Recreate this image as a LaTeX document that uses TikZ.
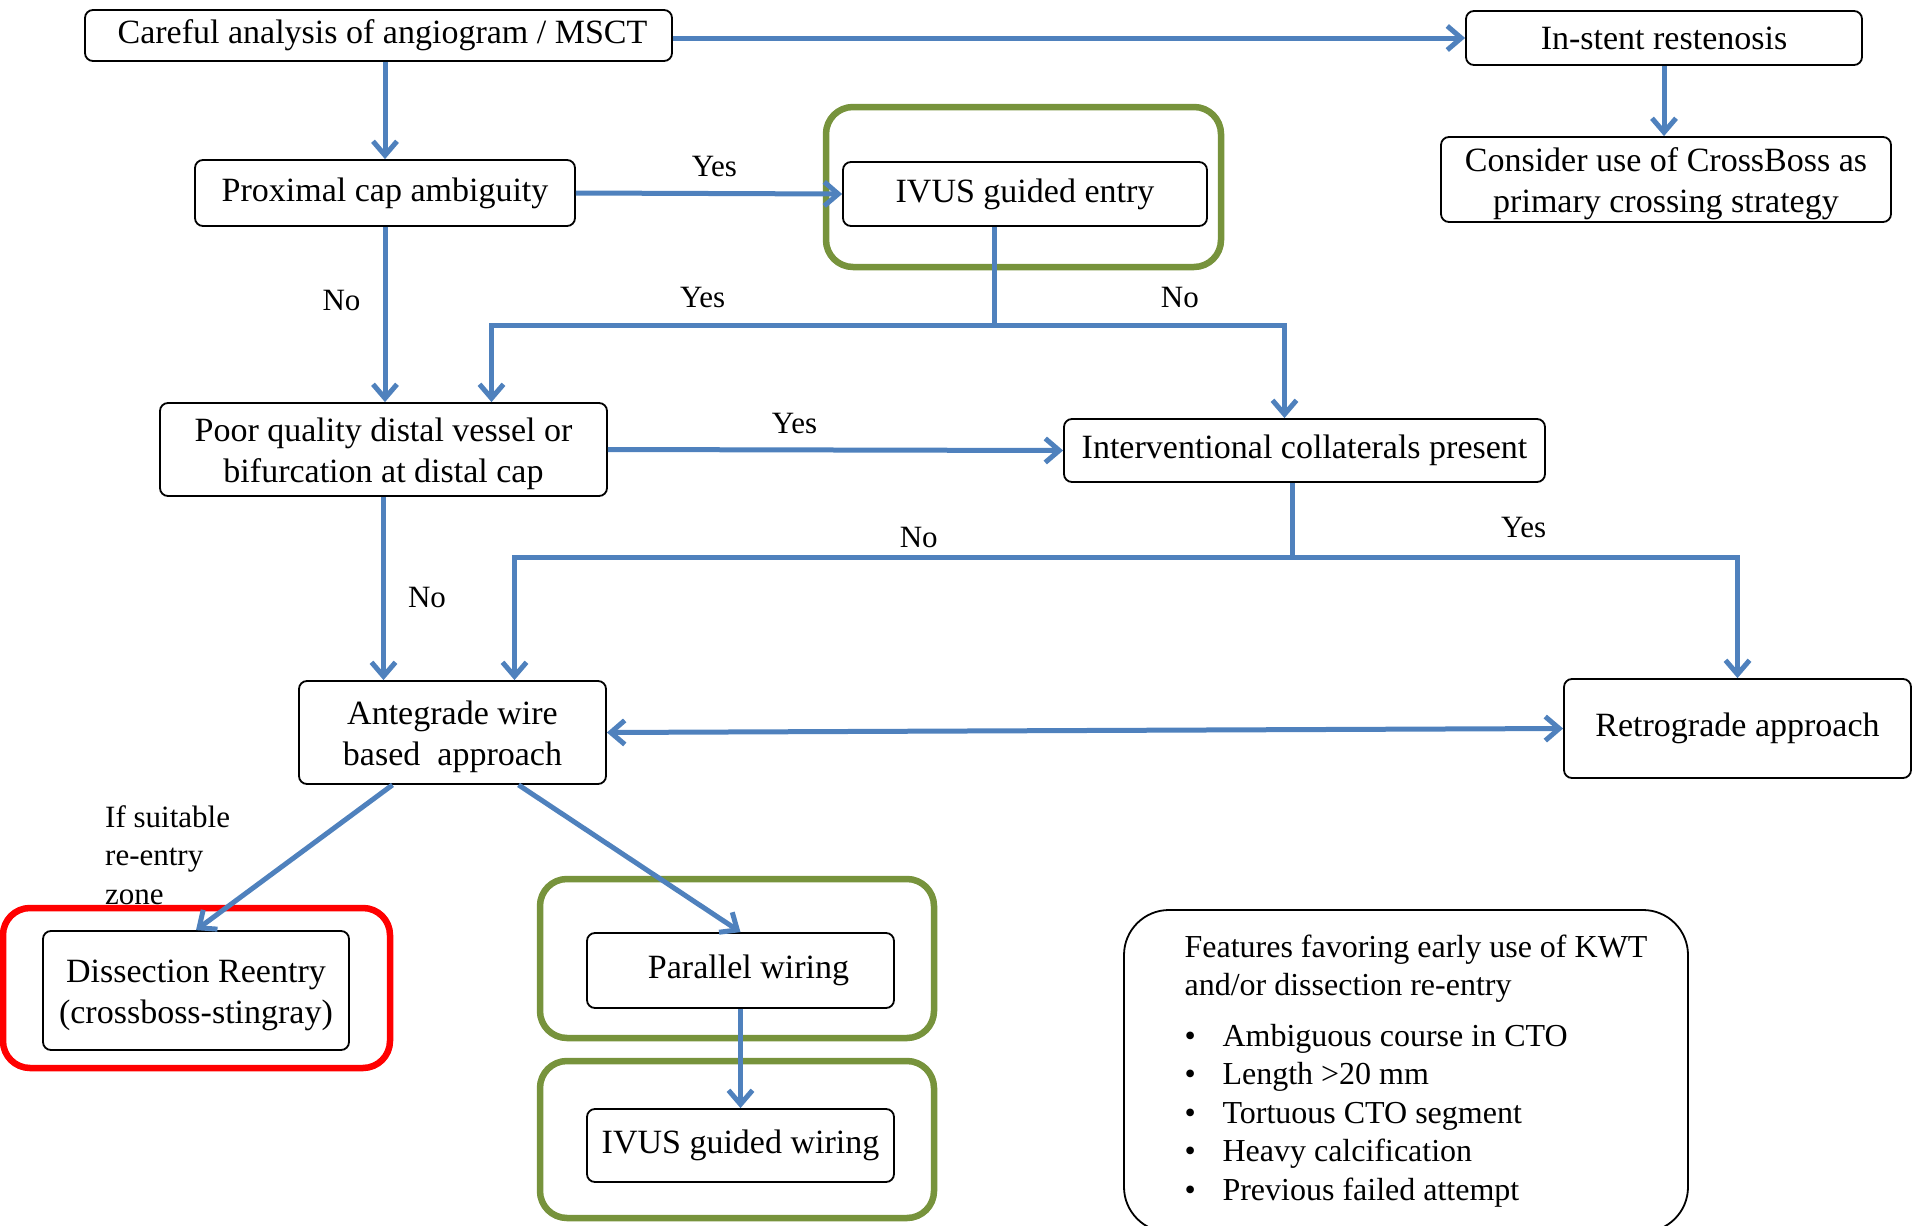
\documentclass[tikz,border=0pt]{standalone}
\usepackage{fontspec}
\setmainfont{Liberation Serif}
\usetikzlibrary{arrows.meta}
\definecolor{flowblue}{HTML}{4F81BD}
\definecolor{framegreen}{HTML}{77933C}
\newcommand{\toplift}{\rule{0pt}{32pt}}

\begin{document}
\begin{tikzpicture}[x=1pt, y=-1pt,
    flowbox/.style={draw, line width=1.8pt, rounded corners=8pt, align=center,
      inner sep=2pt, font=\fontsize{34}{41}\selectfont},
    greenframe/.style={draw=framegreen, line width=6.5pt, rounded corners=27pt},
    redframe/.style={draw=red, line width=6.5pt, rounded corners=27pt},
    flow/.style={draw=flowblue, line width=5pt, -{Straight Barb[length=14pt,width=24pt]}},
    twoway/.style={draw=flowblue, line width=5pt,
      {Straight Barb[length=14pt,width=24pt]}-{Straight Barb[length=14pt,width=24pt]}},
    lbl/.style={inner sep=2pt, font=\fontsize{31}{38.5}\selectfont}]
  \useasboundingbox (0,0) rectangle (1915,1226);
  \clip (0,0) rectangle (1915,1226);

  \node[greenframe, minimum width=395pt, minimum height=160pt] (entryframe) at (1023.5,187) {};
  \node[redframe, minimum width=387pt, minimum height=160pt] (dissframe) at (196.5,988) {};
  \node[greenframe, minimum width=394pt, minimum height=159pt] (parframe) at (737,958.5) {};
  \node[greenframe, minimum width=394pt, minimum height=157pt] (wireframe) at (737,1139.5) {};

  \node[flowbox, minimum width=587pt, minimum height=51pt] (careful) at (378.5,35.5) {\hspace*{8pt}Careful analysis of angiogram / MSCT};
  \node[flowbox, minimum width=396pt, minimum height=54pt] (instent) at (1664,38) {In-stent restenosis};
  \node[flowbox, minimum width=450pt, minimum height=85pt] (cboss) at (1666,179.5) {\toplift Consider use of CrossBoss as\\primary crossing strategy};
  \node[flowbox, minimum width=380pt, minimum height=66pt] (proxcap) at (385,193) {Proximal cap ambiguity};
  \node[flowbox, minimum width=364pt, minimum height=64pt] (ivusentry) at (1025,194) {IVUS guided entry};
  \node[flowbox, minimum width=447pt, minimum height=93pt] (poorq) at (383.5,449.5) {\toplift Poor quality distal vessel or\\bifurcation at distal cap};
  \node[flowbox, minimum width=481pt, minimum height=63pt] (collat) at (1304.5,450.5) {Interventional collaterals present};
  \node[flowbox, minimum width=307pt, minimum height=103pt] (antegr) at (452.5,732.5) {\toplift Antegrade wire\\based\ \ approach};
  \node[flowbox, minimum width=347pt, minimum height=99pt] (retro) at (1737.5,728.5) {Retrograde approach};
  \node[flowbox, minimum width=306pt, minimum height=119pt] (dissect) at (196,990.5) {\toplift Dissection Reentry\\(crossboss-stingray)};
  \node[flowbox, minimum width=307pt, minimum height=75pt] (parwire) at (740.5,970.5) {\hspace*{16pt}Parallel wiring};
  \node[flowbox, minimum width=307pt, minimum height=73pt] (ivuswire) at (740.5,1145.5) {IVUS guided wiring};
  \node[draw, line width=1.8pt, rounded corners=45pt, minimum width=564pt, minimum height=322pt,
    inner sep=0pt, font=\fontsize{32}{38.5}\selectfont] (kwt) at (1406,1071)
    {\begin{tabular}{@{\hspace*{20pt}}l@{}}
     Features favoring early use of KWT\\and/or dissection re-entry\\[12pt]
     \makebox[38pt][l]{\textbullet}Ambiguous course in CTO\\
     \makebox[38pt][l]{\textbullet}Length >20 mm\\
     \makebox[38pt][l]{\textbullet}Tortuous CTO segment\\
     \makebox[38pt][l]{\textbullet}Heavy calcification\\
     \makebox[38pt][l]{\textbullet}Previous failed attempt
     \end{tabular}};
  \node[lbl, align=left, anchor=west] (zonelbl) at (103,855) {If suitable\\re-entry\\zone};

  \draw[flow] (careful.east |- instent) -- (instent.west);
  \draw[flow] (proxcap |- careful.south) -- (proxcap.north);
  \draw[flow] (instent.south) -- (instent.south |- cboss.north);
  \draw[flow] (proxcap.east) -- node[lbl, pos=0.52, above=12pt] (yes1) {Yes} (ivusentry.west);
  \draw[flow] (proxcap.south) -- node[lbl, pos=0.42, left=20pt] (no1) {No} (proxcap.south |- poorq.north);

  \coordinate (split1) at (994,325);
  \draw[flow] (ivusentry.south -| split1) -- (split1) -| node[lbl, pos=0.29, above=13pt] (yes2) {Yes} ([xshift=108pt]poorq.north);
  \draw[flow] (split1) -| node[lbl, pos=0.32, above=13pt] (no2) {No} ([xshift=-20pt]collat.north);

  \draw[flow] (poorq.east) -- node[lbl, pos=0.41, above=12pt] (yes3) {Yes} (collat.west);
  \draw[flow] (poorq.south) -- node[lbl, pos=0.55, right=20pt] (no3) {No} (poorq.south |- antegr.north);

  \coordinate (split2) at (1292,557);
  \draw[flow] (collat.south -| split2) -- (split2) -| node[lbl, pos=0.24, above=5pt] (no4) {No} ([xshift=62pt]antegr.north);
  \draw[flow] (split2) -| node[lbl, pos=0.26, above=15pt] (yes4) {Yes} (retro.north);

  \draw[twoway] (antegr.east) -- (retro.west);
  \draw[flow] ([xshift=-60pt]antegr.south) -- (dissect.north);
  \draw[flow] ([xshift=66pt]antegr.south) -- (parwire.north);
  \draw[flow] (parwire.south) -- (ivuswire.north);
\end{tikzpicture}
\end{document}
